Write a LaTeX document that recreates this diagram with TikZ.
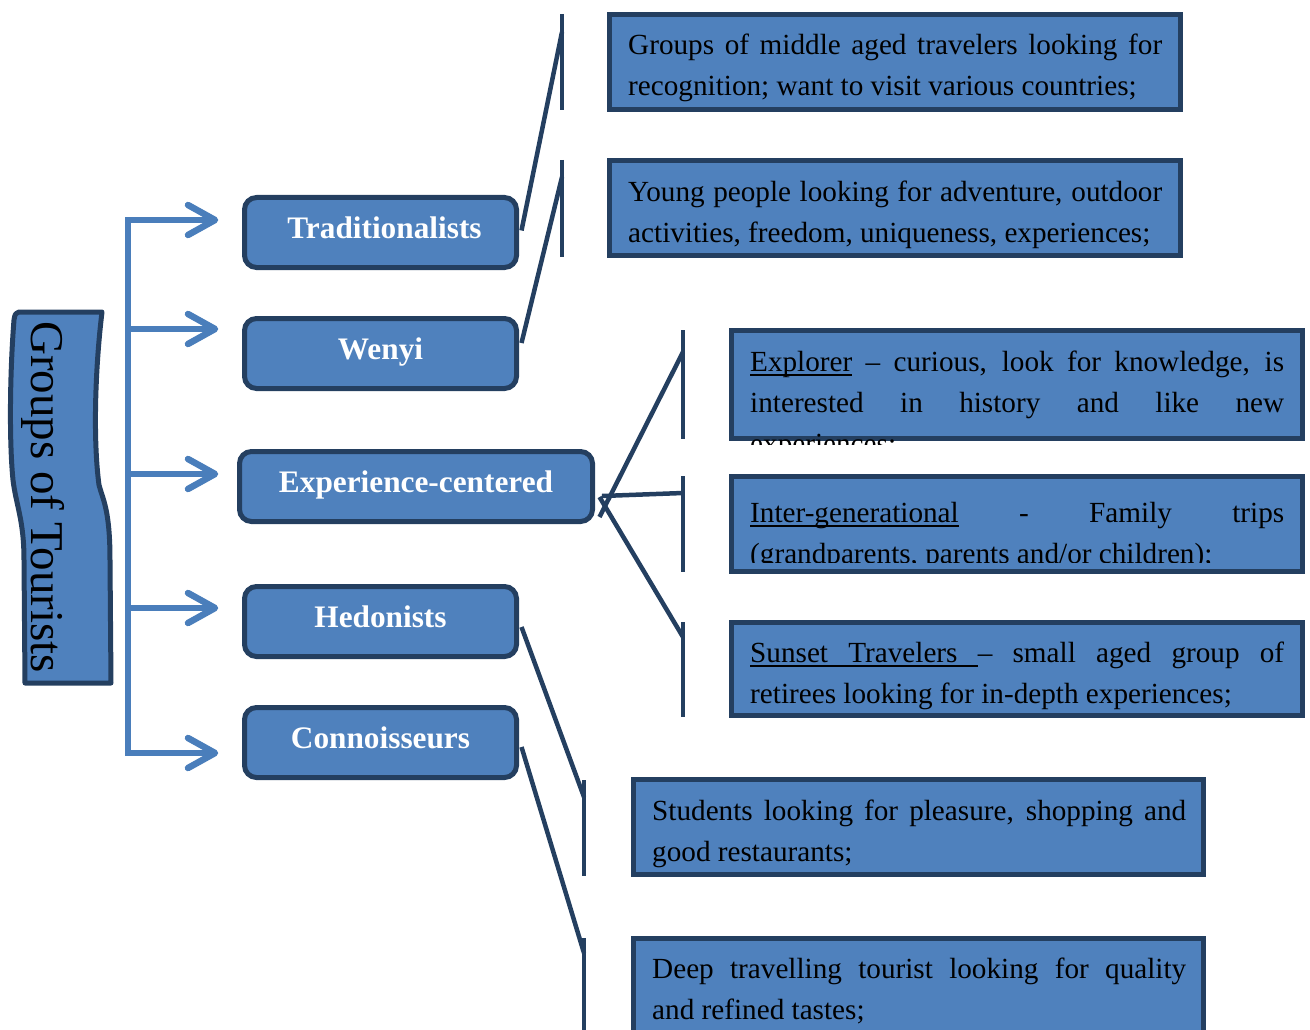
\documentclass[tikz,border=0pt]{standalone}
\usepackage{fontspec}
\setmainfont{Liberation Serif}
\usetikzlibrary{calc}
\definecolor{fillblue}{HTML}{4F81BD}
\definecolor{navy}{HTML}{243F60}
\definecolor{lineblue}{HTML}{4A7EBB}
\newcommand{\ulw}[1]{\setbox0\hbox{#1}\rlap{\vrule height -3pt depth 5pt width \wd0}\box0\relax}
\newcommand{\ulsp}{\leaders\hrule height -3pt depth 5pt\hskip\fontdimen2\font plus\fontdimen3\font minus\fontdimen4\font\relax}
\newcommand{\jl}[1]{\makebox[534pt][s]{#1}}
\tikzset{
  dbox/.style={draw=navy, fill=fillblue, line width=5pt, inner sep=0pt, minimum width=571pt},
  catbox/.style={draw=navy, fill=fillblue, line width=5pt, rounded corners=12pt, inner sep=0pt,
    minimum height=70pt, minimum width=272pt, text=white, font=\fontsize{31.3}{37}\selectfont\bfseries,
    text height=16pt, text depth=4pt},
  conn/.style={draw=navy, line width=4.5pt},
  spine/.style={draw=lineblue, line width=6.5pt},
  body/.style={anchor=base west, inner sep=0pt, font=\fontsize{29.2}{41}\selectfont},
}
\begin{document}
\begin{tikzpicture}[x=1pt,y=-1pt]
\useasboundingbox (0,0) rectangle (1310,1030);
\clip (0,0) rectangle (1310,1030);

% banner
\draw[draw=navy, fill=fillblue, line width=5pt, line join=round]
  (19,312) -- (102,312) .. controls (95,370) and (93,440) .. (99,485)
  .. controls (103,500) and (110,510) .. (110,560) -- (111,683) -- (25,683) -- (24,560)
  .. controls (24,520) and (16,505) .. (13,480) .. controls (9,440) and (10,370) .. (14,320)
  .. controls (15,314) .. cycle;
\node[rotate=-90, anchor=base, inner sep=0pt, font=\fontsize{47}{56}\selectfont] (groups) at (31,497) {Groups of Tourists};

% spine
\coordinate (sptop) at (128,220);
\coordinate (spbot) at (128,753);
\draw[spine, line join=miter] (214,220) -- (sptop) -- (spbot) -- (214,753);
\foreach \yy in {329,474,608}{
  \draw[spine] (128,\yy) -- (214,\yy);
}
\foreach \yy in {220,329,474,608,753}{
  \draw[spine, line cap=round, line join=round] (188,{\yy-15}) -- (215,\yy) -- (188,{\yy+15});
}

% category boxes
\node[catbox] (trad) at (380.5,232.5) {\hspace*{8pt}Traditionalists};
\node[catbox] (wenyi) at (380.5,353.5) {Wenyi};
\node[catbox, minimum width=353pt] (exp) at (416,486.5) {Experience-centered};
\node[catbox] (hed) at (380.5,621.5) {Hedonists};
\node[catbox] (conn) at (380.5,742.5) {Connoisseurs};

% description boxes
\node[dbox, minimum height=95pt] (d1) at (895,62) {};
\node[dbox, minimum height=95pt] (d2) at (895,208) {};
\node[dbox, minimum height=108pt] (d3) at (1017,384.5) {};
\node[dbox, minimum height=95pt] (d4) at (1017,524) {};
\node[dbox, minimum height=93pt] (d5) at (1017,669) {};
\node[dbox, minimum height=95pt, minimum width=570pt] (d6) at (918.5,827) {};
\node[dbox, minimum height=119pt, minimum width=570pt] (d7) at (918.5,998) {};

% bracket connectors
\coordinate (b1t) at (562,14);   \coordinate (b1b) at (562,110); \coordinate (b1j) at (562,32);
\coordinate (b2t) at (562,160);  \coordinate (b2b) at (562,257); \coordinate (b2j) at (562,177);
\coordinate (b3t) at (683,330);  \coordinate (b3b) at (683,439); \coordinate (b3j) at (683,352);
\coordinate (b4t) at (683,476);  \coordinate (b4b) at (683,572); \coordinate (b4j) at (683,493);
\coordinate (b5t) at (683,622);  \coordinate (b5b) at (683,717); \coordinate (b5j) at (683,637);
\coordinate (b6t) at (584,780);  \coordinate (b6b) at (584,876); \coordinate (b6j) at (584,797);
\coordinate (b7t) at (584,938);  \coordinate (b7b) at (584,1040); \coordinate (b7j) at (584,953);
\foreach \i in {1,...,7}{ \draw[conn] (b\i t) -- (b\i b); }
\draw[conn] ($(trad.east)+(2.5,-2)$) -- (b1j);
\draw[conn] ($(wenyi.east)+(2.5,-10.5)$) -- (b2j);
\draw[conn] ($(exp.east)+(4.5,30.5)$) -- (b3j);
\draw[conn] ($(exp.east)+(7,9.5)$) -- (b4j);
\draw[conn] ($(exp.east)+(4.5,10.5)$) -- (b5j);
\draw[conn] ($(hed.east)+(2.5,5.5)$) -- (b6j);
\draw[conn] ($(conn.east)+(2.5,4.5)$) -- (b7j);

% texts
\node[body] (t1a) at (628,55) {\jl{Groups of middle aged travelers looking for}};
\node[body] (t1b) at (628,96) {recognition; want to visit various countries;};
\node[body] (t2a) at (628,201) {\jl{Young people looking for adventure, outdoor}};
\node[body] (t2b) at (628,242) {activities, freedom, uniqueness, experiences;};
\begin{scope}
  \clip (729,328) rectangle (1305,444);
  \node[body] (t3a) at (750,371) {\jl{\ulw{Explorer} -- curious, look for knowledge, is}};
  \node[body] (t3b) at (750,412) {\jl{interested in history and like new}};
  \node[body] (t3c) at (750,453) {experiences;};
\end{scope}
\begin{scope}
  \clip (729,474) rectangle (1305,562);
  \node[body] (t4a) at (750,522) {\jl{\ulw{Inter-generational} - Family trips}};
  \node[body] (t4b) at (750,563) {(grandparents, parents and/or children);};
\end{scope}
\node[body] (t5a) at (750,662) {\jl{\ulw{Sunset}\ulsp\ulw{Travelers}\ulsp--\ small aged group of}};
\node[body] (t5b) at (750,703) {retirees looking for in-depth experiences;};
\node[body] (t6a) at (652,820) {\jl{Students looking for pleasure, shopping and}};
\node[body] (t6b) at (652,861) {good restaurants;};
\node[body] (t7a) at (652,978) {\jl{Deep travelling tourist looking for quality}};
\node[body] (t7b) at (652,1019) {and refined tastes;};
\end{tikzpicture}
\end{document}
